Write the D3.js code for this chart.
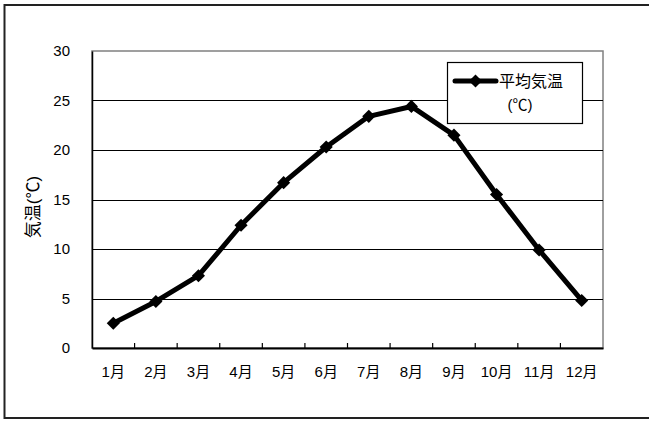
<!DOCTYPE html>
<html>
<head>
<meta charset="utf-8">
<script src="https://cdn.jsdelivr.net/npm/d3@7"></script>
<style>
  body { margin: 0; background: #fff; }
  text { font-family: "Liberation Sans", "Noto Sans CJK JP", sans-serif; fill: #000; }
</style>
</head>
<body>
<div id="chart"></div>
<script>
const FRAME_WIDTH = 649;
const FRAME_HEIGHT = 421;
const PLOT = {left: 92, right: 603, top: 51, bottom: 348};

// data
const MONTHS = ["1月", "2月", "3月", "4月", "5月", "6月", "7月", "8月", "9月", "10月", "11月", "12月"];
const TEMPS = [2.5, 4.7, 7.3, 12.4, 16.7, 20.3, 23.4, 24.4, 21.5, 15.5, 9.9, 4.8];
const Y_TICKS = [0, 5, 10, 15, 20, 25, 30];
const SERIES_NAME = ["平均気温", "(℃)"];
const Y_TITLE = "気温(℃)";

const SVG = d3.select("#chart")
  .append("svg")
    .attr("width", FRAME_WIDTH)
    .attr("height", FRAME_HEIGHT);

// outer chart border
SVG.append("rect")
  .attr("x", 4.5).attr("y", 5)
  .attr("width", 660).attr("height", 413)
  .attr("fill", "#fff")
  .attr("stroke", "#222")
  .attr("stroke-width", 2);

const X_SCALE = d3.scaleBand()
  .domain(MONTHS)
  .range([PLOT.left, PLOT.right]);

const Y_SCALE = d3.scaleLinear()
  .domain([0, 30])
  .range([PLOT.bottom, PLOT.top]);

// plot area border (top/right grey)
SVG.append("rect")
  .attr("x", PLOT.left).attr("y", PLOT.top)
  .attr("width", PLOT.right - PLOT.left)
  .attr("height", PLOT.bottom - PLOT.top)
  .attr("fill", "#fff")
  .attr("stroke", "#808080")
  .attr("stroke-width", 1.5);

// gridlines
SVG.append("g")
  .selectAll("line")
  .data(Y_TICKS.filter(d => d > 0 && d < 30))
  .enter()
  .append("line")
    .attr("x1", PLOT.left).attr("x2", PLOT.right)
    .attr("y1", d => Math.round(Y_SCALE(d)) + 0.5)
    .attr("y2", d => Math.round(Y_SCALE(d)) + 0.5)
    .attr("stroke", "#000")
    .attr("stroke-width", 1.2);

// y axis
const yAxis = SVG.append("g")
  .attr("transform", "translate(" + PLOT.left + ",0)")
  .call(d3.axisLeft(Y_SCALE).tickValues(Y_TICKS).tickSize(0).tickPadding(22));
yAxis.select(".domain").attr("stroke", "#000").attr("stroke-width", 1.5);
yAxis.selectAll("text").attr("font-size", "15px").style("font-family", "Liberation Sans");

// x axis
const xAxis = SVG.append("g")
  .attr("transform", "translate(0," + PLOT.bottom + ")")
  .call(d3.axisBottom(X_SCALE).tickSize(0).tickPadding(18));
xAxis.select(".domain").attr("stroke", "#000").attr("stroke-width", 2);
xAxis.selectAll("text").attr("font-size", "15px");

// x ticks at category boundaries, pointing inward
SVG.append("g")
  .selectAll("line")
  .data(MONTHS.slice(1))
  .enter()
  .append("line")
    .attr("x1", d => X_SCALE(d)).attr("x2", d => X_SCALE(d))
    .attr("y1", PLOT.bottom).attr("y2", PLOT.bottom - 5)
    .attr("stroke", "#000")
    .attr("stroke-width", 1.2);

// y title
SVG.append("text")
  .attr("transform", "translate(39,207) rotate(-90)")
  .attr("text-anchor", "middle")
  .attr("font-size", "17px")
  .style("fill", "#000")
  .text(Y_TITLE);

// line
const LINE = d3.line()
  .x((d, i) => X_SCALE(MONTHS[i]) + X_SCALE.bandwidth() / 2)
  .y(d => Y_SCALE(d));

SVG.append("path")
  .datum(TEMPS)
  .attr("d", LINE)
  .attr("fill", "none")
  .attr("stroke", "#000")
  .attr("stroke-width", 5)
  .attr("stroke-linejoin", "round");

const DIAMOND = d3.symbol().type(d3.symbolDiamond2).size(110);

SVG.append("g")
  .selectAll("path")
  .data(TEMPS)
  .enter()
  .append("path")
    .attr("d", DIAMOND)
    .attr("transform", (d, i) => "translate(" + (X_SCALE(MONTHS[i]) + X_SCALE.bandwidth() / 2) + "," + Y_SCALE(d) + ")")
    .attr("fill", "#000");

// legend
const LEGEND = SVG.append("g");
LEGEND.append("rect")
  .attr("x", 447.5).attr("y", 62.5)
  .attr("width", 135).attr("height", 61)
  .attr("fill", "#fff")
  .attr("stroke", "#000")
  .attr("stroke-width", 1.2);
LEGEND.append("line")
  .attr("x1", 455).attr("x2", 496)
  .attr("y1", 81).attr("y2", 81)
  .attr("stroke", "#000")
  .attr("stroke-width", 5)
  .attr("stroke-linecap", "round");
LEGEND.append("path")
  .attr("d", DIAMOND)
  .attr("transform", "translate(475.5,81)");
LEGEND.append("text")
  .attr("x", 499).attr("y", 86.5)
  .attr("font-size", "16px")
  .text(SERIES_NAME[0]);
LEGEND.append("text")
  .attr("x", 520).attr("y", 110)
  .attr("text-anchor", "middle")
  .attr("font-size", "15px")
  .text(SERIES_NAME[1]);
</script>
</body>
</html>
